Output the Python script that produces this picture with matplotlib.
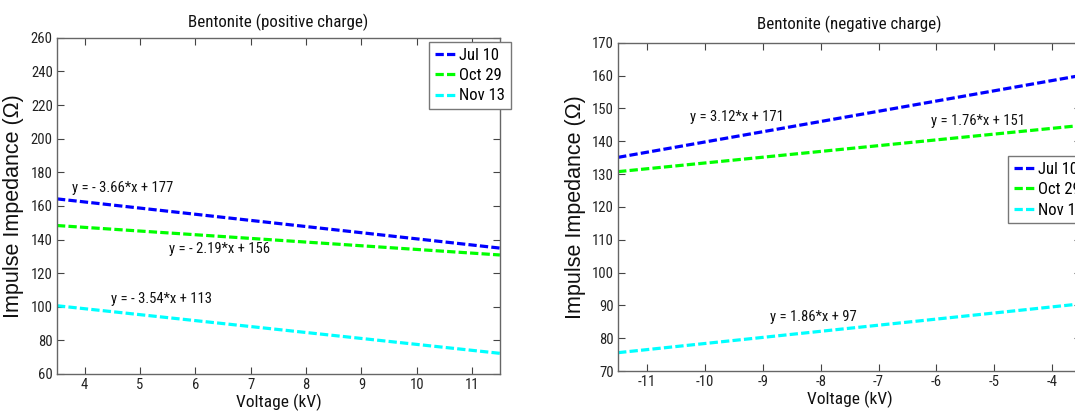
import matplotlib
matplotlib.use("Agg")
import matplotlib.pyplot as plt
from matplotlib.font_manager import FontProperties

# Fitted impulse-impedance lines for bentonite, per measurement date
dates = ["Jul 10", "Oct 29", "Nov 13"]
colors = ["#0000ff", "#00ff00", "#00ffff"]

pos_voltage = [3.5, 11.5]
pos_slope = [-3.66, -2.19, -3.54]
pos_intercept = [177, 156, 113]
pos_labels = ["y = - 3.66*x + 177", "y = - 2.19*x + 156", "y = - 3.54*x + 113"]
pos_label_xy = [(3.77, 170.5), (5.52, 134.4), (4.47, 104.6)]
pos_yticks = [60, 80, 100, 120, 140, 160, 180, 200, 220, 240, 260]
pos_xticks = [4, 5, 6, 7, 8, 9, 10, 11]

neg_voltage = [-11.5, -3.5]
neg_slope = [3.12, 1.76, 1.86]
neg_intercept = [171, 151, 97]
neg_labels = ["y = 3.12*x + 171", "y = 1.76*x + 151", "y = 1.86*x + 97"]
neg_label_xy = [(-10.26, 147.4), (-6.09, 146.2), (-8.88, 86.4)]
neg_yticks = [70, 80, 90, 100, 110, 120, 130, 140, 150, 160, 170]
neg_xticks = [-11, -10, -9, -8, -7, -6, -5, -4]

plt.rcParams["axes.unicode_minus"] = False

NARROW = ["Roboto Condensed", "Archivo Narrow", "PT Sans Narrow",
          "Liberation Sans", "DejaVu Sans"]
REGULAR = ["Liberation Sans", "DejaVu Sans"]

fig = plt.figure(figsize=(10.75, 4.16), dpi=100)
ax1 = fig.add_axes([0.053, 0.101, 0.412, 0.808])
ax2 = fig.add_axes([0.575, 0.108, 0.4307, 0.789])


def draw_panel(ax, xs, slopes, intercepts, labels, label_xy, xticks, yticks,
               title, legend_anchor, title_pad):
    for name, c, m, b in zip(dates, colors, slopes, intercepts):
        ys = [m * x + b for x in xs]
        ax.plot(xs, ys, color=c, linestyle=(0, (2.6, 1.0)), linewidth=2.3,
                label=name)
    for text, (tx, ty) in zip(labels, label_xy):
        ax.text(tx, ty, text, ha="left", va="center", fontsize=10.5,
                family=NARROW, color="#111111")
    ax.set_xlim(xs[0], xs[1])
    ax.set_ylim(yticks[0], yticks[-1])
    ax.set_xticks(xticks)
    ax.set_yticks(yticks)
    ax.tick_params(direction="in", length=5, width=0.8, top=True, right=True,
                   colors="#444444", labelcolor="#222222", pad=3)
    for lab in ax.get_xticklabels() + ax.get_yticklabels():
        lab.set_family(NARROW)
        lab.set_fontsize(10.5)
    for sp in ax.spines.values():
        sp.set_color("#666666")
        sp.set_linewidth(1.0)
    ax.set_title(title, family=NARROW, fontsize=12.2, pad=title_pad,
                 color="#111111")
    ax.set_xlabel("Voltage (kV)", family=NARROW, fontsize=12.5, labelpad=1,
                  color="#111111")
    ax.set_ylabel("Impulse Impedance (Ω)", family=REGULAR, fontsize=15.5,
                  color="#111111")
    leg = ax.legend(loc="upper left", bbox_to_anchor=legend_anchor,
                    borderaxespad=0, fancybox=False, framealpha=1,
                    handlelength=1.35, handletextpad=0.1, labelspacing=0.32,
                    borderpad=0.35, prop=FontProperties(family=NARROW, size=12))
    leg.get_frame().set_edgecolor("#777777")
    leg.get_frame().set_linewidth(1.0)


draw_panel(ax1, pos_voltage, pos_slope, pos_intercept, pos_labels, pos_label_xy,
           pos_xticks, pos_yticks, "Bentonite (positive charge)", (0.840, 0.988), 8)
draw_panel(ax2, neg_voltage, neg_slope, neg_intercept, neg_labels, neg_label_xy,
           neg_xticks, neg_yticks, "Bentonite (negative charge)", (0.842, 0.655), 9.5)

ax1.yaxis.set_label_coords(-0.0745, 0.5)
ax2.yaxis.set_label_coords(-0.070, 0.5)

fig.savefig("out.png", dpi=100)
